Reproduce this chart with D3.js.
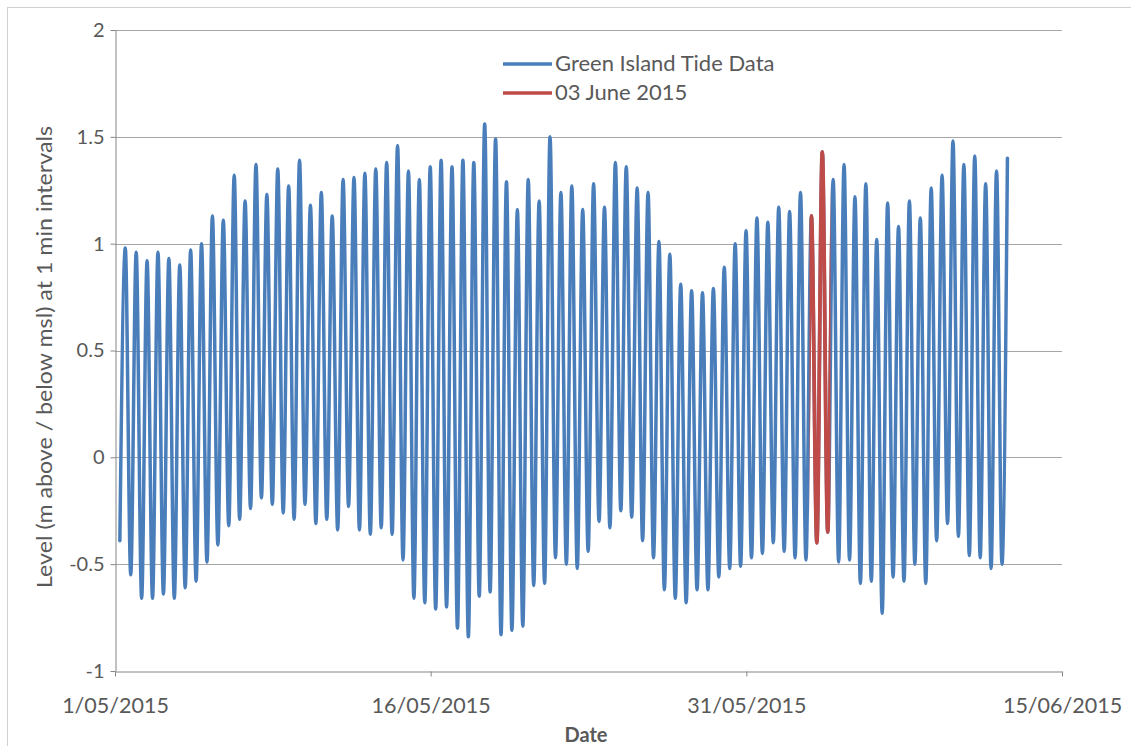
<!DOCTYPE html>
<html>
<head>
<meta charset="utf-8">
<script src="https://cdn.jsdelivr.net/npm/d3@7"></script>
<style>
  html, body { margin: 0; padding: 0; background: #ffffff; }
  svg { display: block; }
  text { font-family: Lato, "Noto Sans", sans-serif; fill: #595959; }
</style>
</head>
<body>
<svg id="chart" width="1131" height="746"></svg>
<script>
// ---- data ----
// successive tide extremes, alternating low, high, low, high ... (metres about msl)
const lowLevels = [
  -0.39, -0.55, -0.66, -0.66, -0.64, -0.66, -0.61, -0.58, -0.49, -0.41,
  -0.32, -0.29, -0.24, -0.19, -0.22, -0.26, -0.29, -0.22, -0.31, -0.29,
  -0.34, -0.23, -0.34, -0.36, -0.33, -0.36, -0.48, -0.66, -0.68, -0.71,
  -0.70, -0.80, -0.84, -0.65, -0.63, -0.83, -0.81, -0.79, -0.60, -0.59,
  -0.47, -0.50, -0.52, -0.44, -0.30, -0.33, -0.25, -0.28, -0.39, -0.47,
  -0.62, -0.66, -0.68, -0.62, -0.62, -0.56, -0.52, -0.51, -0.47, -0.45,
  -0.40, -0.44, -0.47, -0.48, -0.40, -0.35, -0.49, -0.48, -0.59, -0.58,
  -0.73, -0.56, -0.58, -0.50, -0.59, -0.39, -0.31, -0.37, -0.46, -0.47,
  -0.52, -0.50
];
const highLevels = [
  0.98, 0.96, 0.92, 0.96, 0.93, 0.90, 0.97, 1.00, 1.13, 1.11,
  1.32, 1.20, 1.37, 1.23, 1.35, 1.27, 1.39, 1.18, 1.24, 1.13,
  1.30, 1.31, 1.33, 1.35, 1.38, 1.46, 1.34, 1.30, 1.36, 1.39,
  1.36, 1.39, 1.38, 1.56, 1.49, 1.29, 1.16, 1.30, 1.20, 1.50,
  1.24, 1.27, 1.16, 1.28, 1.17, 1.38, 1.36, 1.26, 1.24, 1.01,
  0.95, 0.81, 0.78, 0.77, 0.79, 0.89, 1.00, 1.06, 1.12, 1.10,
  1.17, 1.15, 1.24, 1.13, 1.43, 1.30, 1.37, 1.22, 1.28, 1.02,
  1.19, 1.08, 1.20, 1.12, 1.26, 1.32, 1.48, 1.37, 1.41, 1.28,
  1.34, 1.40
];
// timing of the record: first extreme (a low) and the spacing between extremes (semi-diurnal tide)
const firstExtremeTime = new Date(2015, 4, 1, 5, 32);
const halfTideHours = 6.21;

const highlightDay = [new Date(2015, 5, 3), new Date(2015, 5, 4)];
const seriesNames = ["Green Island Tide Data", "03 June 2015"];
const seriesColors = ["#4A7EBB", "#BE4B48"];

const xTickDates = [new Date(2015, 4, 1), new Date(2015, 4, 16), new Date(2015, 4, 31), new Date(2015, 5, 15)];
const yTickValues = [-1, -0.5, 0, 0.5, 1, 1.5, 2];
const xTitle = "Date";
const yTitle = "Level (m above / below msl) at 1 min intervals";

// ---- build the series ----
const series = [];
lowLevels.forEach((lo, i) => {
  series.push({ t: new Date(firstExtremeTime.getTime() + (2 * i) * halfTideHours * 3600e3), v: lo });
  if (i < highLevels.length)
    series.push({ t: new Date(firstExtremeTime.getTime() + (2 * i + 1) * halfTideHours * 3600e3), v: highLevels[i] });
});

// ---- layout ----
const svg = d3.select("#chart");
const plot = { left: 115, right: 1062, top: 30, bottom: 671 };

const x = d3.scaleTime().domain([xTickDates[0], xTickDates[xTickDates.length - 1]]).range([plot.left, plot.right]);
const y = d3.scaleLinear().domain([-1, 2]).range([plot.bottom, plot.top]);

// outer chart border
svg.append("rect").attr("x", 7.5).attr("y", 7.5).attr("width", 1200).attr("height", 800)
  .attr("fill", "none").attr("stroke", "#d0d0d0").attr("stroke-width", 1);

// gridlines
svg.append("g").selectAll("line").data(yTickValues.filter(d => d > -1)).join("line")
  .attr("x1", plot.left).attr("x2", plot.right)
  .attr("y1", d => Math.round(y(d)) + 0.5).attr("y2", d => Math.round(y(d)) + 0.5)
  .attr("stroke", "#a6a6a6").attr("stroke-width", 1);

// axes
const yAxis = svg.append("g").attr("transform", `translate(${plot.left + 0.5},0)`)
  .call(d3.axisLeft(y).tickValues(yTickValues).tickSize(5).tickSizeOuter(0).tickPadding(6).tickFormat(d => String(d)));
const xAxis = svg.append("g").attr("transform", `translate(0,${plot.bottom + 0.5})`)
  .call(d3.axisBottom(x).tickValues(xTickDates).tickSize(5).tickSizeOuter(0).tickPadding(21).tickFormat(d3.timeFormat("%-d/%m/%Y")));
[yAxis, xAxis].forEach(a => {
  a.select(".domain").attr("stroke", "#868686");
  a.selectAll(".tick line").attr("stroke", "#868686");
  a.selectAll(".tick text").attr("fill", "#595959").style("font-family", "Lato, sans-serif");
});
yAxis.selectAll(".tick text").style("font-size", "20px");
xAxis.selectAll(".tick text").style("font-size", "21.5px");

// lines
const line = d3.line().x(d => x(d.t)).y(d => y(d.v)).curve(d3.curveMonotoneX);

svg.append("path").datum(series)
  .attr("d", line).attr("fill", "none")
  .attr("stroke", seriesColors[0]).attr("stroke-width", 3.5)
  .attr("stroke-linejoin", "round").attr("stroke-linecap", "round");

svg.append("clipPath").attr("id", "dayclip").append("rect")
  .attr("x", x(highlightDay[0])).attr("width", x(highlightDay[1]) - x(highlightDay[0]))
  .attr("y", 0).attr("height", 746);

svg.append("path").datum(series)
  .attr("clip-path", "url(#dayclip)")
  .attr("d", line).attr("fill", "none")
  .attr("stroke", seriesColors[1]).attr("stroke-width", 3.8)
  .attr("stroke-linejoin", "round").attr("stroke-linecap", "round");

// legend
const legend = svg.append("g");
seriesNames.forEach((name, i) => {
  const yy = 64 + i * 29;
  legend.append("line").attr("x1", 503).attr("x2", 552).attr("y1", yy).attr("y2", yy)
    .attr("stroke", seriesColors[i]).attr("stroke-width", 3.5);
  legend.append("text").attr("x", 555).attr("y", yy + 7).style("font-size", "22px").text(name);
});

// axis titles
svg.append("text").attr("x", 586).attr("y", 742).attr("text-anchor", "middle")
  .style("font-size", "20px").style("font-weight", "bold").text(xTitle);
svg.append("text").attr("transform", `translate(52,357) rotate(-90)`).attr("text-anchor", "middle")
  .attr("textLength", 462).attr("lengthAdjust", "spacingAndGlyphs")
  .style("font-size", "21px").text(yTitle);
</script>
</body>
</html>
